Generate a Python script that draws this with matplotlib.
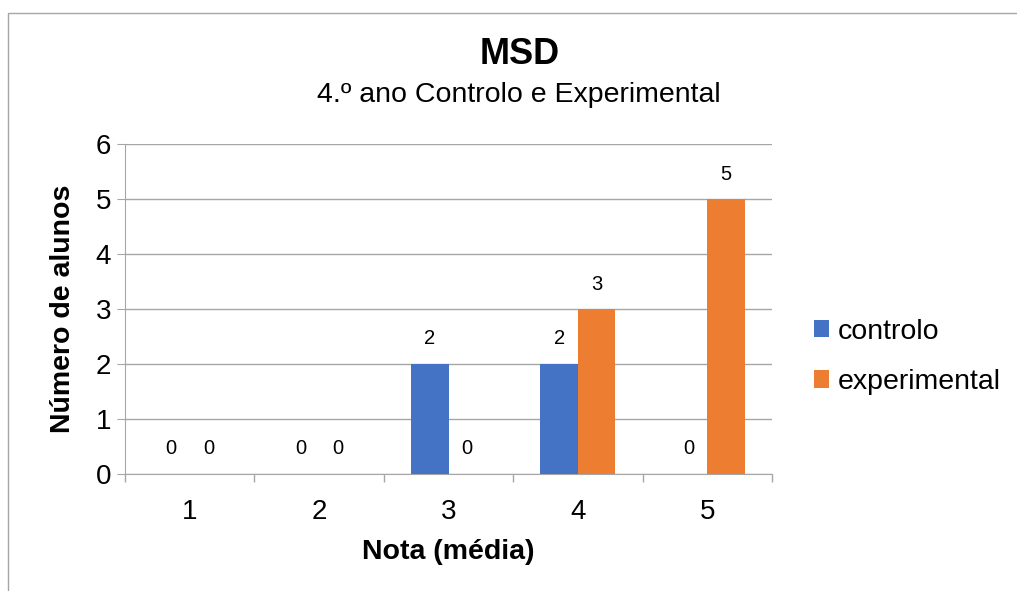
import matplotlib.pyplot as plt
from matplotlib.patches import Rectangle
import numpy as np

# dados
notas = ['1', '2', '3', '4', '5']
controlo = [0, 0, 2, 2, 0]
experimental = [0, 0, 0, 3, 5]

plt.rcParams['font.family'] = ['Liberation Sans', 'DejaVu Sans']

fig = plt.figure(figsize=(10.17, 5.91), dpi=100)
ax = fig.add_axes([125 / 1017, 1 - 474 / 591, (772 - 125) / 1017, (474 - 144) / 591])

x = np.arange(len(notas))
w = 0.29
b1 = ax.bar(x - w / 2, controlo, w, color='#4472C4', label='controlo', zorder=3)
b2 = ax.bar(x + w / 2, experimental, w, color='#ED7D31', label='experimental', zorder=3)

# rótulos dos valores
for bars in (b1, b2):
    for r in bars:
        ax.annotate(str(int(r.get_height())), (r.get_x() + r.get_width() / 2, r.get_height()),
                    xytext=(0, 18), textcoords='offset points', ha='center', va='center', fontsize=14.5)

ax.set_xlim(-0.5, len(notas) - 0.5)
ax.set_ylim(0, 6)
ax.set_yticks(range(7))
ax.set_xticks(x)
ax.set_xticklabels(notas)
ax.set_xticks(np.arange(-0.5, len(notas)), minor=True)
ax.tick_params(axis='x', which='major', length=0, labelsize=20, pad=18)
ax.tick_params(axis='x', which='minor', length=6, color='#A6A6A6', width=1)
ax.tick_params(axis='y', length=6, color='#A6A6A6', labelsize=20, pad=4)

ax.grid(axis='y', color='#A6A6A6', linewidth=1, zorder=0)
for s in ['top', 'right']:
    ax.spines[s].set_visible(False)
ax.spines['left'].set_color('#A6A6A6')
ax.spines['bottom'].set_color('#A6A6A6')

ax.set_xlabel('Nota (média)', fontsize=20.5, fontweight='bold', labelpad=10)
ax.set_ylabel('Número de alunos', fontsize=20.5, fontweight='bold', labelpad=14)

fig.text(520 / 1017, 1 - 55 / 591, 'MSD', ha='center', va='center', fontsize=26, fontweight='bold')
fig.text(519 / 1017, 1 - 95 / 591, '4.º ano Controlo e Experimental', ha='center', va='center', fontsize=20.5)

ax.legend(loc='center left', bbox_to_anchor=(788 / 1017, 1 - 357 / 591), bbox_transform=fig.transFigure,
          frameon=False, fontsize=20.5, handlelength=0.55, handleheight=0.55, handletextpad=0.3,
          labelspacing=0.85)

# moldura
fig.patches.append(Rectangle((8 / 1017, -0.01), 1.0, 1 - 13 / 591 + 0.01, transform=fig.transFigure,
                             fill=False, edgecolor='#A6A6A6', linewidth=1))

plt.savefig('out.png', dpi=100)
